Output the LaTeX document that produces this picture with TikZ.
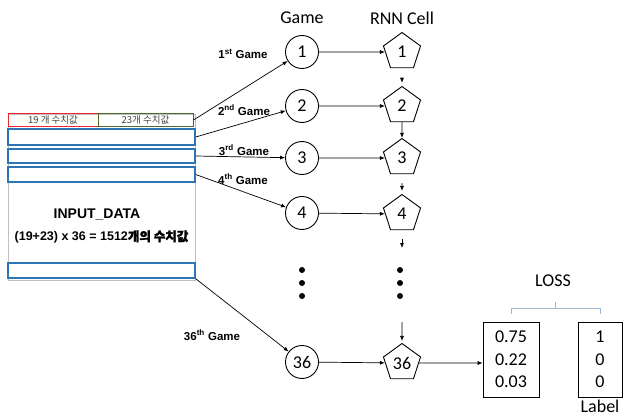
\documentclass[tikz,border=0pt]{standalone}
\usepackage{fontspec}
\setmainfont{Liberation Sans}
\newfontfamily\calfont{Carlito}
\newfontfamily\krfont{Noto Sans CJK KR}
\newfontfamily\krbold[FakeBold=2]{Noto Sans CJK KR}
\usetikzlibrary{shapes.geometric,arrows.meta}
\definecolor{stripblue}{HTML}{2E75B6}
\definecolor{redbox}{HTML}{E8282B}
\definecolor{greenbox}{HTML}{4E6B2A}
\definecolor{braceblue}{HTML}{9DB9D6}

\begin{document}
\begin{tikzpicture}[x=1pt,y=-1pt,>={Latex[length=5pt,width=4pt]},
	game/.style={circle,draw,line width=0.9pt,minimum size=33pt,inner sep=0pt,font=\calfont\fontsize{18}{18}\selectfont},
	cell/.style={regular polygon,regular polygon sides=5,draw,line width=0.9pt,minimum size=39pt,inner sep=0pt,font=\calfont\fontsize{18}{18}\selectfont},
	strip/.style={draw=stripblue,line width=1.4pt,minimum width=187pt,inner sep=0pt},
	valbox/.style={draw,line width=0.7pt,minimum height=75pt,inner sep=0pt,align=center,font=\calfont\fontsize{18}{22.5}\selectfont},
	glabel/.style={font=\bfseries\fontsize{11.5}{12}\selectfont},
	head/.style={font=\calfont\fontsize{18}{18}\selectfont},
	link/.style={->,line width=0.7pt}]
	\useasboundingbox (0,0) rectangle (624,417);

	\node[draw=gray!50,line width=0.6pt,minimum width=187pt,minimum height=166pt,inner sep=0pt] (input) at (101.5,197) {};
	\node[draw=redbox,line width=1pt,minimum width=90pt,minimum height=13pt,inner sep=0pt,font=\krfont\fontsize{9.5}{10}\selectfont,text=black!75] (part19) at (53,120) {19 개 수치값};
	\node[draw=greenbox,line width=1pt,minimum width=95pt,minimum height=13pt,inner sep=0pt,font=\krfont\fontsize{9.5}{10}\selectfont,text=black!75] (part23) at (145.5,120) {23개 수치값};
	\node[strip,minimum height=16pt] (s1) at (101.5,137) {};
	\node[strip,minimum height=14pt] (s2) at (101.5,156) {};
	\node[strip,minimum height=15pt] (s3) at (101.5,174.5) {};
	\node[strip,minimum height=15pt] (sN) at (101.5,270.5) {};
	\node[font=\bfseries\fontsize{14}{14}\selectfont] (title) at (97,215) {INPUT\_DATA};
	\node[font=\bfseries\fontsize{12.5}{13}\selectfont] (count) at (101.5,237) {(19+23) x 36 = 1512{\krbold 개의 수치값}};

	\node[head] (ghead) at (302,18) {Game};
	\node[head] (rhead) at (402,18) {RNN Cell};

	\node[game] (c1) at (302,52) {1};
	\node[game] (c2) at (302,106) {2};
	\node[game] (c3) at (302,158) {3};
	\node[game] (c4) at (302,213) {4};
	\node[game] (c36) at (302,362) {36};

	\node[cell] (p1) at (402,52) {1};
	\node[cell] (p2) at (402,106) {2};
	\node[cell] (p3) at (402,158) {3};
	\node[cell] (p4) at (402,214) {4};
	\node[cell] (p36) at (402,363) {36};

	\foreach \y in {270,283,296} {
		\fill (302,\y) circle (3pt);
		\fill (400,\y) circle (3pt);
	}

	\draw[link] (part23.east) -- (c1);
	\draw[link] (s1.east) -- (c2);
	\draw[link] (s2.east) -- (c3);
	\draw[link] (s3.east) -- (c4);
	\draw[link] (sN.south east) -- (c36);

	\node[glabel] (l1) at (243,54) {1\textsuperscript{st} Game};
	\node[glabel] (l2) at (244,110) {2\textsuperscript{nd} Game};
	\node[glabel] (l3) at (244,150) {3\textsuperscript{rd} Game};
	\node[glabel] (l4) at (243,179) {4\textsuperscript{th} Game};
	\node[glabel] (l36) at (212,335) {36\textsuperscript{th} Game};

	\draw[link] (c1) -- (p1);
	\draw[link] (c2) -- (p2);
	\draw[link] (c3) -- (p3);
	\draw[link] (c4) -- (p4);
	\draw[link] (c36) -- (p36);

	\coordinate (q4) at (402,248);
	\coordinate (q36) at (402,322);
	\draw[link,shorten <=9pt,shorten >=3pt] (p1) -- (p2);
	\draw[link] (p2) -- (p3);
	\draw[link,shorten <=9pt,shorten >=3pt] (p3) -- (p4);
	\draw[link,shorten <=9pt] (p4) -- (q4);
	\draw[link,shorten >=2pt] (q36) -- (p36);

	\node[valbox,minimum width=56pt] (b1) at (511,359.5) {0.75\\0.22\\0.03};
	\node[valbox,minimum width=44pt] (b2) at (600,359.5) {1\\0\\0};
	\draw[link] (p36) -- (p36 -| b1.west);

	\coordinate (lm) at (555.5,309);
	\draw[braceblue,line width=0.8pt] (b1.north) ++(0,-8) -- ++(0,-5) -| ([yshift=8pt]b2.north);
	\draw[braceblue,line width=0.8pt] (lm) -- ++(0,-7);
	\node[head] (loss) at (553,281) {LOSS};
	\node[head,anchor=north,inner sep=0pt] (label) at (600,400) {Label};
\end{tikzpicture}
\end{document}
